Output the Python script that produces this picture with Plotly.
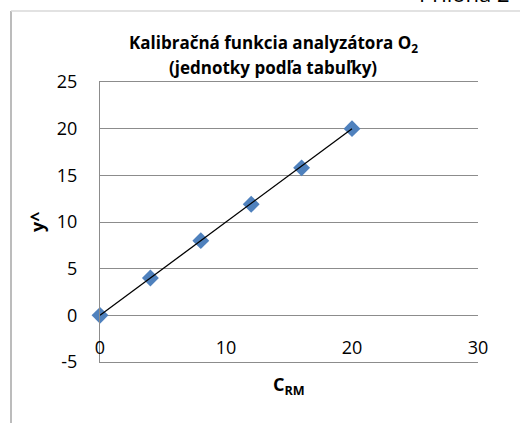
import plotly.graph_objects as go

# Data
c_rm = [0, 4, 8, 12, 16, 20]
y_hat = [0, 4.0, 8.0, 11.9, 15.8, 20]
fit_x = [0, 20]
fit_y = [0, 20]

x_ticks = [0, 10, 20, 30]
y_ticks = [-5, 0, 5, 10, 15, 20, 25]
y_tick_text = ["-5", "0", "5", "10", "15", "20", "25"]

FONT = "Open Sans"
W, H = 520, 423
L, R, T, B = 100, 42, 82, 61
pw, ph = W - L - R, H - T - B
GRID = "#8c8c8c"

def px(x):
    return (x - L) / pw

def py(y):
    return (H - B - y) / ph

fig = go.Figure()
fig.add_trace(go.Scatter(
    x=c_rm, y=y_hat, mode="markers",
    marker=dict(symbol="diamond", size=13, color="#4F81BD"),
    showlegend=False, cliponaxis=False))
fig.add_trace(go.Scatter(
    x=fit_x, y=fit_y, mode="lines",
    line=dict(color="black", width=1.3),
    showlegend=False))

fig.update_layout(
    width=W, height=H,
    margin=dict(l=L, r=R, t=T, b=B),
    paper_bgcolor="white", plot_bgcolor="white",
    font=dict(family=FONT, color="black"),
    xaxis=dict(range=[0, 30], tickvals=x_ticks, showgrid=False, zeroline=False,
               showline=True, mirror=True, linecolor=GRID, linewidth=1,
               ticks="", tickfont=dict(size=18), ticklabelstandoff=-31,
               fixedrange=True),
    yaxis=dict(range=[-5, 25], tickvals=y_ticks, ticktext=y_tick_text,
               showgrid=True, gridcolor=GRID,
               gridwidth=1, zeroline=True, zerolinecolor=GRID, zerolinewidth=1,
               showline=True, linecolor=GRID, linewidth=1, ticks="",
               tickfont=dict(size=18), ticklabelstandoff=18, fixedrange=True),
)

# Axis titles
fig.add_annotation(x=px(289), y=py(385), xref="paper", yref="paper",
                   text="<b>C<sub>RM</sub></b>", showarrow=False,
                   font=dict(size=18), xanchor="center", yanchor="middle")
fig.add_annotation(x=px(37), y=py(222), xref="paper", yref="paper",
                   text="<b>y^</b>", showarrow=False, textangle=-90,
                   font=dict(size=18), xanchor="center", yanchor="middle")

# Title (two lines)
fig.add_annotation(x=px(273), y=py(43), xref="paper", yref="paper",
                   text="<b>Kalibračná funkcia analyzátora O<sub>2</sub></b>",
                   showarrow=False, font=dict(size=17), xanchor="center", yanchor="middle")
fig.add_annotation(x=px(273), y=py(68), xref="paper", yref="paper",
                   text="<b>(jednotky podľa tabuľky)</b>",
                   showarrow=False, font=dict(size=17), xanchor="center", yanchor="middle")

# Page header fragment
fig.add_annotation(x=px(512), y=py(10), xref="paper", yref="paper",
                   text="Príloha 2", showarrow=False, font=dict(size=22),
                   xanchor="right", yanchor="bottom")

# Chart frame
fig.add_shape(type="line", xref="paper", yref="paper",
              x0=px(11), x1=px(11), y0=py(11), y1=py(H),
              line=dict(color="#a6a6a6", width=1.5))
fig.add_shape(type="line", xref="paper", yref="paper",
              x0=px(11), x1=px(W), y0=py(11), y1=py(11),
              line=dict(color="#d9d9d9", width=1.5))

fig.write_html("out.html", config={"displayModeBar": False},
               post_script="document.body.style.margin='0';")
